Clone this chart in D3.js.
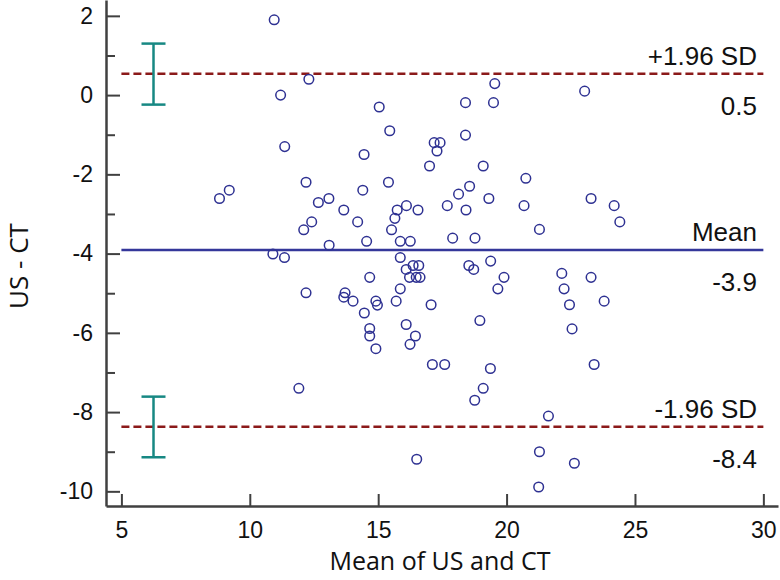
<!DOCTYPE html>
<html>
<head>
<meta charset="utf-8">
<script src="https://cdn.jsdelivr.net/npm/d3@7"></script>
<style>
  html, body { margin: 0; padding: 0; background: #fff; }
  svg { display: block; }
</style>
</head>
<body>
<div id="chart"></div>
<script>
// ---- data ----
const meanValues = [10.95,12.3,11.2,15.04,15.45,11.36,14.45,19.54,23.04,18.4,19.49,18.4,17.18,17.41,17.29,17.0,19.09,20.75,
  8.82,9.2,12.19,15.4,14.4,13.08,12.67,13.66,14.2,12.41,12.1,13.09,14.55,15.74,16.1,16.55,15.65,15.52,15.86,16.25,
  10.9,11.35,15.86,16.09,16.36,16.58,16.22,16.48,16.63,14.67,15.86,12.19,13.71,13.66,14.02,14.91,14.97,15.7,14.46,
  16.09,14.67,14.67,16.45,18.56,18.13,19.31,17.69,18.42,20.68,23.29,24.19,24.41,21.28,17.9,18.77,18.53,18.72,19.38,
  19.9,19.66,22.15,22.24,23.29,22.45,23.8,17.06,18.96,22.55,14.91,16.24,11.91,16.5,17.11,17.59,19.37,19.09,18.76,
  23.41,21.63,21.28,22.64,21.25];
const diffValues = [1.9,0.4,0.0,-0.3,-0.9,-1.3,-1.5,0.29,0.1,-0.19,-0.19,-1.01,-1.2,-1.2,-1.41,-1.79,-1.79,-2.1,
  -2.61,-2.4,-2.2,-2.2,-2.4,-2.61,-2.71,-2.9,-3.2,-3.2,-3.4,-3.79,-3.69,-2.9,-2.79,-2.9,-3.11,-3.4,-3.69,-3.69,
  -4.01,-4.1,-4.1,-4.4,-4.3,-4.3,-4.6,-4.6,-4.6,-4.6,-4.89,-4.99,-4.99,-5.1,-5.2,-5.2,-5.3,-5.2,-5.5,
  -5.79,-5.89,-6.08,-6.08,-2.3,-2.5,-2.61,-2.79,-2.9,-2.79,-2.61,-2.79,-3.2,-3.39,-3.61,-3.61,-4.3,-4.4,-4.19,
  -4.6,-4.89,-4.5,-4.89,-4.6,-5.29,-5.2,-5.29,-5.69,-5.9,-6.4,-6.29,-7.4,-9.19,-6.8,-6.8,-6.9,-7.4,-7.7,
  -6.8,-8.1,-9.0,-9.29,-9.89];
const limitNames = ["+1.96 SD", "Mean", "-1.96 SD"];
const limitValues = [0.54, -3.91, -8.37];
const limitKinds = ["sd", "mean", "sd"];
const ciX = 6.25;
const ciLow = [-0.24, -9.14];
const ciHigh = [1.3, -7.61];
const xTicks = [5, 10, 15, 20, 25, 30];
const yTicks = [-10, -8, -6, -4, -2, 0, 2];
const yMinorTicks = [-9, -7, -5, -3, -1, 1];
const xTitle = "Mean of US and CT";
const yTitle = "US - CT";

// ---- layout ----
const W = 780, H = 580;
const svg = d3.select("#chart").append("svg").attr("width", W).attr("height", H);

const x = d3.scaleLinear().domain([4.4, 30.57]).range([106, 778]);
const y = d3.scaleLinear().domain([-10.37, 2.4]).range([506, 0]);

const axisColor = "#404040";
const tickFont = "'Liberation Sans', Arial, sans-serif";
const plainFmt = d => String(d);

// minor y ticks
svg.append("g").attr("transform", "translate(106,0)")
  .call(d3.axisLeft(y).tickValues(yMinorTicks).tickSize(-9).tickFormat(""))
  .call(g => g.select(".domain").remove())
  .call(g => g.selectAll("line").attr("stroke", axisColor).attr("stroke-width", 2));

// major y axis
svg.append("g").attr("transform", "translate(106,0)")
  .call(d3.axisLeft(y).tickValues(yTicks).tickSizeInner(-14).tickSizeOuter(0).tickPadding(13).tickFormat(plainFmt))
  .call(g => g.select(".domain").attr("stroke", axisColor).attr("stroke-width", 2.5))
  .call(g => g.selectAll("line").attr("stroke", axisColor).attr("stroke-width", 2))
  .call(g => g.selectAll("text").attr("font-family", tickFont).attr("font-size", 23).attr("fill", "#111"));

// x axis
svg.append("g").attr("transform", "translate(0,506)")
  .call(d3.axisBottom(x).tickValues(xTicks).tickSizeInner(-12).tickSizeOuter(0).tickPadding(16).tickFormat(plainFmt))
  .call(g => g.select(".domain").attr("stroke", axisColor).attr("stroke-width", 2.5))
  .call(g => g.selectAll("line").attr("stroke", axisColor).attr("stroke-width", 2))
  .call(g => g.selectAll("text").attr("font-family", tickFont).attr("font-size", 23).attr("fill", "#111"));

// limit lines
const lines = limitValues.map((v, i) => ({ v, name: limitNames[i], kind: limitKinds[i] }));
svg.append("g").selectAll("line").data(lines).join("line")
  .attr("x1", x(5)).attr("x2", x(30))
  .attr("y1", d => y(d.v)).attr("y2", d => y(d.v))
  .attr("stroke", d => d.kind === "mean" ? "#34379a" : "#8b1a1a")
  .attr("stroke-width", 2.5)
  .attr("stroke-dasharray", d => d.kind === "mean" ? null : "8,4");

// labels
const lbl = svg.append("g").attr("font-family", tickFont).attr("font-size", 26).attr("fill", "#111").attr("text-anchor", "end");
lbl.selectAll("text.name").data(lines).join("text").attr("class", "name")
  .attr("x", 757).attr("y", d => y(d.v) - 9).text(d => d.name);
lbl.selectAll("text.val").data(lines).join("text").attr("class", "val")
  .attr("x", 757).attr("y", d => y(d.v) + 41).text(d => d.v.toFixed(1));

// confidence interval bars
const ci = ciLow.map((lo, i) => ({ lo, hi: ciHigh[i] }));
const ciG = svg.append("g").attr("stroke", "#178883").attr("stroke-width", 2.5);
ciG.selectAll("line.v").data(ci).join("line").attr("class", "v")
  .attr("x1", x(ciX)).attr("x2", x(ciX)).attr("y1", d => y(d.lo)).attr("y2", d => y(d.hi));
ciG.selectAll("line.t").data(ci).join("line").attr("class", "t")
  .attr("x1", x(ciX) - 12).attr("x2", x(ciX) + 12).attr("y1", d => y(d.hi)).attr("y2", d => y(d.hi));
ciG.selectAll("line.b").data(ci).join("line").attr("class", "b")
  .attr("x1", x(ciX) - 12).attr("x2", x(ciX) + 12).attr("y1", d => y(d.lo)).attr("y2", d => y(d.lo));

// points
const pts = meanValues.map((m, i) => ({ m, d: diffValues[i] }));
svg.append("g").selectAll("circle").data(pts).join("circle")
  .attr("cx", d => x(d.m)).attr("cy", d => y(d.d)).attr("r", 4.8)
  .attr("fill", "none").attr("stroke", "#2e3192").attr("stroke-width", 1.5);

// axis titles
svg.append("text").attr("x", 440).attr("y", 570).attr("text-anchor", "middle")
  .attr("font-family", "'Open Sans', sans-serif").attr("font-size", 25).attr("fill", "#111").text(xTitle);
svg.append("text").attr("transform", "translate(28,266) rotate(-90)").attr("text-anchor", "middle")
  .attr("font-family", "'Open Sans', sans-serif").attr("font-size", 26).attr("fill", "#111").text(yTitle);
</script>
</body>
</html>
